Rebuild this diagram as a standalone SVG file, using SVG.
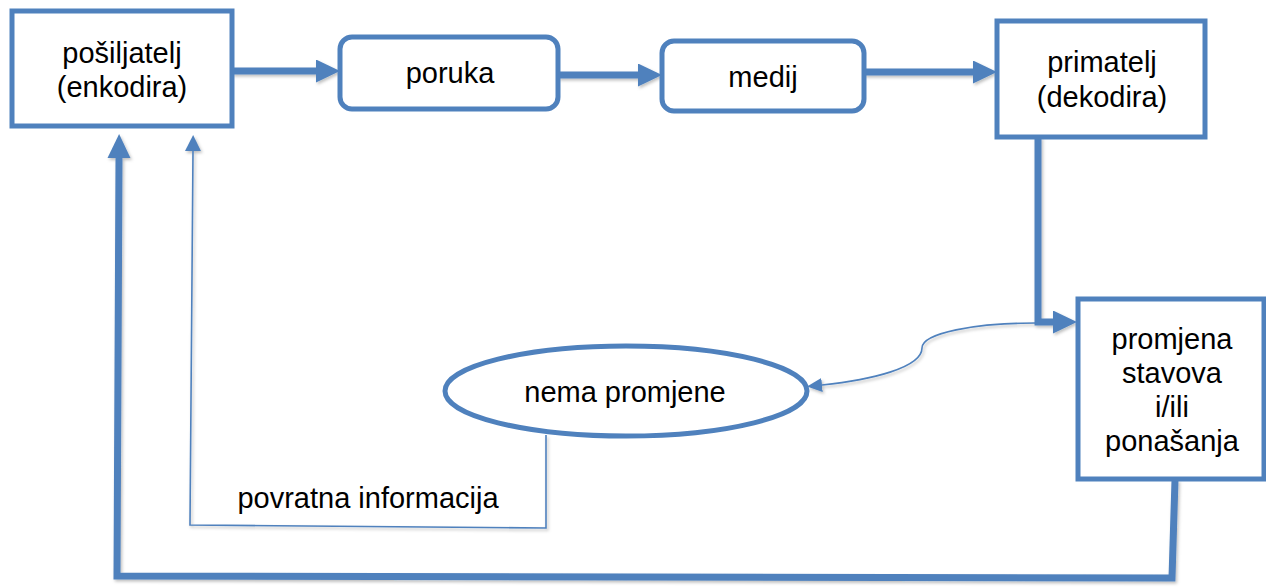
<svg xmlns="http://www.w3.org/2000/svg" width="1266" height="587" viewBox="0 0 1266 587">
<style>
.box{fill:#fff;stroke:#4F81BD;stroke-width:5}
.t{font-family:"Liberation Sans",Arial,sans-serif;font-size:29px;fill:#000;text-anchor:middle}
.thick{fill:none;stroke:#4F81BD;stroke-width:7;stroke-linejoin:miter}
.thin{fill:none;stroke:#4F81BD;stroke-width:1.6}
</style>
<defs>
<filter id="sh" x="-5%" y="-5%" width="110%" height="110%">
<feDropShadow dx="1.5" dy="2" stdDeviation="1.5" flood-color="#000" flood-opacity="0.25"/>
</filter>
<marker id="big" markerUnits="userSpaceOnUse" markerWidth="26" markerHeight="24" refX="0" refY="11.5" orient="auto">
<path d="M0,0 L24,11.5 L0,23 z" fill="#4F81BD"/>
</marker>
<marker id="small" markerUnits="userSpaceOnUse" markerWidth="18" markerHeight="18" refX="0" refY="8" orient="auto">
<path d="M0,0 L16,8 L0,16 z" fill="#4F81BD"/>
</marker>
<marker id="tiny" markerUnits="userSpaceOnUse" markerWidth="16" markerHeight="16" refX="0" refY="7" orient="auto">
<path d="M0,0 L15,7 L0,14 z" fill="#4F81BD"/>
</marker>
</defs>
<g id="connectors" filter="url(#sh)">
<path class="thick" d="M232,71 L316,71" marker-end="url(#big)"/>
<path class="thick" d="M558,75 L638,75" marker-end="url(#big)"/>
<path class="thick" d="M864,72 L973,72" marker-end="url(#big)"/>
<path class="thick" d="M1038,137 L1038,322 L1053,322" marker-end="url(#big)"/>
<path class="thick" d="M1175,480 L1172,578 L117,576 L119,158" marker-end="url(#big)"/>
<path class="thin" d="M546,435 L546,528 L190,525 L193,151" marker-end="url(#small)"/>
<path class="thin" d="M1036,323 C975,323 922,333 922,348 C922,368 870,380 822,385" marker-end="url(#tiny)"/>
</g>
<g id="posiljatelj">
<rect class="box" x="12" y="11" width="220" height="115"/>
<text class="t" x="122" y="63">pošiljatelj</text>
<text class="t" x="122" y="97">(enkodira)</text>
</g>
<g id="poruka">
<rect class="box" x="340" y="37" width="218" height="72" rx="12"/>
<text class="t" x="450" y="83">poruka</text>
</g>
<g id="medij">
<rect class="box" x="662" y="41" width="202" height="70" rx="12"/>
<text class="t" x="763" y="87">medij</text>
</g>
<g id="primatelj">
<rect class="box" x="997" y="21" width="208" height="116"/>
<text class="t" x="1102" y="72">primatelj</text>
<text class="t" x="1102" y="107">(dekodira)</text>
</g>
<g id="promjena">
<rect class="box" x="1078" y="299" width="186" height="180"/>
<text class="t" x="1172" y="349">promjena</text>
<text class="t" x="1172" y="383">stavova</text>
<text class="t" x="1172" y="417">i/ili</text>
<text class="t" x="1172" y="451">ponašanja</text>
</g>
<g id="nema">
<ellipse class="box" cx="626" cy="391" rx="181" ry="45"/>
<text class="t" x="625" y="402">nema promjene</text>
</g>
<g id="label-povratna">
<text class="t" x="368" y="508">povratna informacija</text>
</g>
</svg>
